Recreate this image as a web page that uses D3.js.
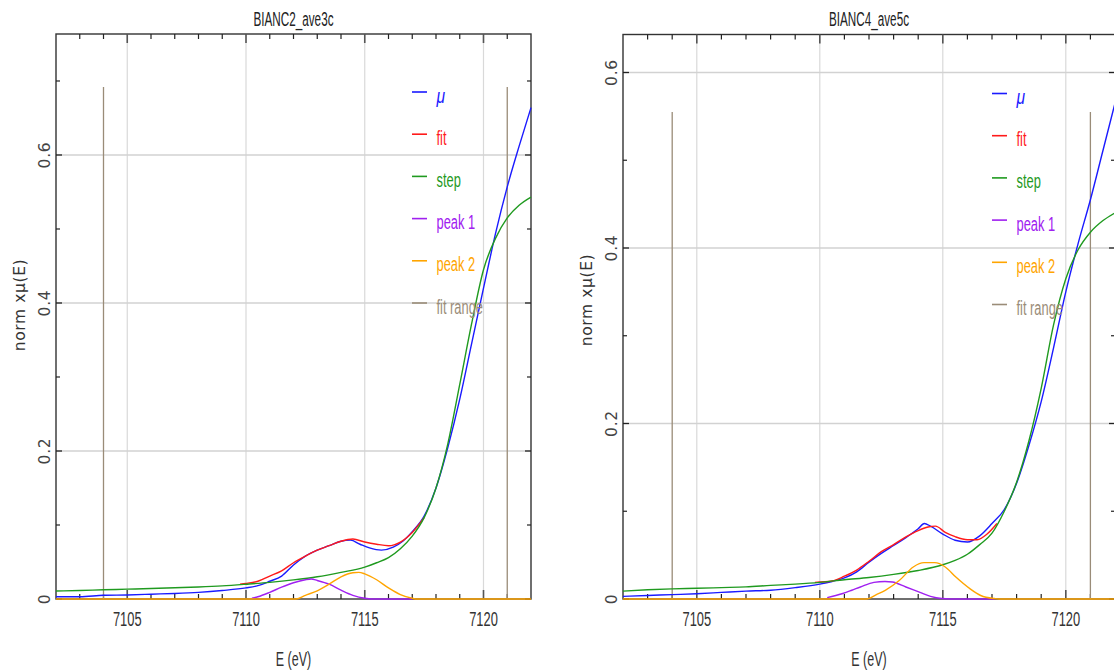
<!DOCTYPE html>
<html>
<head>
<meta charset="utf-8">
<script src="https://cdn.jsdelivr.net/npm/d3@7/dist/d3.min.js"></script>
<style>
  html, body { margin: 0; padding: 0; background: #fff; }
  svg { display: block; }
</style>
</head>
<body>
<svg id="chart" width="1114" height="672"></svg>
<script>
// ---- shared axis settings ----
const energyDomain = [7102, 7122];
const xMajorTicks = [7105, 7110, 7115, 7120];
const xMinorTicks = d3.range(7102, 7123, 1);
const yMajorTicks = [0, 0.2, 0.4, 0.6];
const yMinorTicks = [0.1, 0.3, 0.5, 0.7];
const legendLabels = ["μ", "fit", "step", "peak 1", "peak 2", "fit range"];
const xAxisLabel = "E (eV)";
const yAxisLabel = "norm xμ(E)";

// ---- BIANC2_ave3c ----
const b2Title = "BIANC2_ave3c";
const b2Mu = [[7102,0.003],[7103,0.003],[7104,0.005],[7105,0.0055],[7106,0.0065],[7107,0.0075],[7108,0.009],[7109,0.0115],[7110,0.015],[7110.5,0.018],[7111,0.024],[7111.5,0.031],[7112,0.046],[7112.5,0.058],[7113,0.066],[7113.5,0.072],[7114,0.078],[7114.4,0.0795],[7114.8,0.074],[7115.2,0.069],[7115.7,0.066],[7116.2,0.070],[7116.6,0.078],[7117,0.091],[7117.5,0.112],[7118,0.150],[7118.5,0.205],[7119,0.27],[7119.5,0.345],[7120,0.42],[7120.5,0.493],[7121,0.557],[7121.5,0.612],[7122,0.664]];
const b2Fit = [[7109.75,0.020],[7110,0.021],[7110.5,0.024],[7111,0.031],[7111.5,0.038],[7112,0.049],[7112.5,0.058],[7113,0.066],[7113.5,0.072],[7114,0.078],[7114.5,0.081],[7115,0.077],[7115.5,0.074],[7116,0.072],[7116.5,0.077],[7117,0.090],[7117.5,0.110]];
const b2Step = [[7102,0.0108],[7103,0.0115],[7104,0.0125],[7105,0.0133],[7106,0.0142],[7107,0.0152],[7108,0.0163],[7109,0.0178],[7110,0.020],[7111,0.0225],[7112,0.0258],[7113,0.030],[7114,0.036],[7115,0.043],[7115.5,0.049],[7116,0.056],[7116.5,0.068],[7117,0.085],[7117.5,0.11],[7118,0.15],[7118.5,0.21],[7119,0.29],[7119.5,0.372],[7120,0.445],[7120.5,0.487],[7121,0.515],[7121.5,0.532],[7122,0.543]];
const b2Peak1 = [[7110.25,0.001],[7110.5,0.003],[7111,0.009],[7111.5,0.016],[7112,0.022],[7112.5,0.026],[7112.75,0.027],[7113,0.025],[7113.5,0.020],[7114,0.012],[7114.5,0.005],[7115,0.001],[7115.3,0],[7117,0]];
const b2Peak2 = [[7102,0],[7112.1,0],[7112.5,0.005],[7113,0.011],[7113.5,0.020],[7114,0.030],[7114.5,0.0355],[7114.75,0.036],[7115,0.034],[7115.5,0.026],[7116,0.015],[7116.5,0.006],[7117,0.001],[7117.2,0],[7122,0]];
const b2FitRange = [7104, 7121];
const b2FitRangeTop = 0.692;

// ---- BIANC4_ave5c ----
const b4Title = "BIANC4_ave5c";
const b4Mu = [[7102,0.003],[7103,0.004],[7104,0.005],[7105,0.006],[7106,0.0075],[7107,0.009],[7108,0.010],[7109,0.013],[7110,0.017],[7110.5,0.020],[7111,0.024],[7111.5,0.031],[7112,0.042],[7112.5,0.052],[7113,0.061],[7113.5,0.070],[7114,0.080],[7114.25,0.086],[7114.5,0.083],[7115,0.074],[7115.5,0.067],[7116,0.065],[7116.5,0.072],[7117,0.086],[7117.5,0.102],[7118,0.132],[7118.5,0.175],[7119,0.225],[7119.5,0.286],[7120,0.350],[7120.5,0.405],[7121,0.455],[7121.5,0.510],[7122,0.565]];
const b4Fit = [[7109.8,0.019],[7110.5,0.0205],[7111,0.026],[7111.5,0.033],[7112,0.043],[7112.5,0.054],[7113,0.062],[7113.5,0.0707],[7114,0.078],[7114.4,0.082],[7114.7,0.083],[7115.1,0.076],[7115.5,0.071],[7116,0.0675],[7116.4,0.0676],[7116.8,0.074],[7117.2,0.086]];
const b4Step = [[7102,0.009],[7103,0.0105],[7104,0.0115],[7105,0.0122],[7106,0.013],[7107,0.0138],[7108,0.0155],[7109,0.017],[7110,0.019],[7111,0.022],[7112,0.0245],[7113,0.028],[7114,0.0325],[7115,0.039],[7115.5,0.044],[7116,0.051],[7116.5,0.062],[7117,0.075],[7117.5,0.100],[7118,0.133],[7118.5,0.18],[7119,0.24],[7119.5,0.312],[7120,0.365],[7120.5,0.398],[7121,0.418],[7121.5,0.431],[7122,0.440]];
const b4Peak1 = [[7110.3,0.0015],[7110.9,0.006],[7111.3,0.010],[7111.65,0.0137],[7112.2,0.019],[7112.65,0.020],[7112.95,0.0194],[7113.5,0.0137],[7114.1,0.0072],[7114.5,0.003],[7114.95,0.0005],[7115.3,0],[7117.1,0]];
const b4Peak2 = [[7102,0],[7111.9,0],[7112.3,0.005],[7112.66,0.0099],[7113.24,0.0213],[7113.8,0.0365],[7114.24,0.0414],[7114.67,0.0414],[7115.1,0.0365],[7115.53,0.025],[7116.1,0.0118],[7116.54,0.004],[7117.1,0.0005],[7117.3,0],[7122,0]];
const b4FitRange = [7104, 7121];
const b4FitRangeTop = 0.555;

// ---- styling ----
const colors = {
  mu: "#1a1aff", fit: "#ff1a1a", step: "#1f9a1f",
  peak1: "#a020f0", peak2: "#ffa500", fitRange: "#9a8c78"
};
const legendColors = [colors.mu, colors.fit, colors.step, colors.peak1, colors.peak2, colors.fitRange];
const narrowFont = "'Liberation Sans', Arial, sans-serif";
const wideFont = "'DejaVu Sans', sans-serif";

const svg = d3.select("#chart");

// text squeezed horizontally to mimic a tall, narrow plotting font
function narrowText(g, x, y, txt, opts) {
  const o = Object.assign({ size: 18, sx: 0.68, anchor: "middle", color: "#333", italic: false }, opts || {});
  return g.append("text")
    .attr("transform", `translate(${x},${y}) scale(${o.sx},1)`)
    .attr("text-anchor", o.anchor)
    .attr("font-family", narrowFont)
    .attr("font-size", o.size)
    .attr("font-style", o.italic ? "italic" : "normal")
    .attr("fill", o.color)
    .text(txt);
}

function drawPanel(p) {
  const g = svg.append("g");
  const x = d3.scaleLinear().domain(energyDomain).range([p.left, p.right]);
  const y = d3.scaleLinear().domain([0, p.yMax]).range([p.bottom, p.top]);
  const [x0, x1] = x.range();
  const [y0, y1] = y.range();

  // grid
  g.selectAll(".vgrid").data(xMajorTicks).join("line")
    .attr("x1", d => x(d)).attr("x2", d => x(d)).attr("y1", y0).attr("y2", y1)
    .attr("stroke", "#d9d9d9").attr("stroke-width", 1.2);
  g.selectAll(".hgrid").data(yMajorTicks.filter(d => d > 0 && d < p.yMax)).join("line")
    .attr("x1", x0).attr("x2", x1).attr("y1", d => y(d)).attr("y2", d => y(d))
    .attr("stroke", "#d2d2d2").attr("stroke-width", 1.3);

  // frame
  g.append("rect").attr("x", x0).attr("y", y1).attr("width", x1 - x0).attr("height", y0 - y1)
    .attr("fill", "none").attr("stroke", "#333").attr("stroke-width", 1.4);

  // x ticks, bottom and top, pointing inward
  const minorX = xMinorTicks.filter(d => !xMajorTicks.includes(d) && d > energyDomain[0] && d < energyDomain[1]);
  [[y0, -1], [y1, 1]].forEach(([yy, dir]) => {
    g.append("g").selectAll("line").data(minorX).join("line")
      .attr("x1", d => x(d)).attr("x2", d => x(d)).attr("y1", yy).attr("y2", yy + dir * 5)
      .attr("stroke", "#222").attr("stroke-width", 1.2);
    g.append("g").selectAll("line").data(xMajorTicks).join("line")
      .attr("x1", d => x(d)).attr("x2", d => x(d)).attr("y1", yy).attr("y2", yy + dir * 9)
      .attr("stroke", "#555").attr("stroke-width", 1.6);
  });
  // y ticks, left and right, pointing inward
  [[x0, 1], [x1, -1]].forEach(([xx, dir]) => {
    g.append("g").selectAll("line").data(yMinorTicks.filter(d => d < p.yMax)).join("line")
      .attr("x1", xx).attr("x2", xx + dir * 4).attr("y1", d => y(d)).attr("y2", d => y(d))
      .attr("stroke", "#222").attr("stroke-width", 1.2);
    g.append("g").selectAll("line").data(yMajorTicks.filter(d => d < p.yMax)).join("line")
      .attr("x1", xx).attr("x2", xx + dir * 6).attr("y1", d => y(d)).attr("y2", d => y(d))
      .attr("stroke", "#222").attr("stroke-width", 1.3);
  });

  // tick labels
  xMajorTicks.forEach(t => narrowText(g, x(t), 625.5, String(t), { size: 19.5, sx: 0.66, color: "#333" }));
  yMajorTicks.filter(d => d < p.yMax).forEach(t => {
    g.append("text")
      .attr("transform", `translate(${x0 - 6},${y(t)}) rotate(-90)`)
      .attr("text-anchor", "middle")
      .attr("font-family", wideFont).attr("font-size", 15.5).attr("fill", "#444")
      .attr("letter-spacing", 0.8)
      .text(t === 0 ? "0" : d3.format(".1f")(t));
  });

  // axis titles and panel title
  narrowText(g, (x0 + x1) / 2, 666, xAxisLabel, { size: 19.5, sx: 0.64 });
  g.append("text")
    .attr("transform", `translate(${x0 - 31},${p.yLabelCenter}) rotate(-90)`)
    .attr("text-anchor", "middle")
    .attr("font-family", wideFont).attr("font-size", 15.5).attr("fill", "#333")
    .attr("letter-spacing", 0.6)
    .text(yAxisLabel);
  narrowText(g, (x0 + x1) / 2, 26, p.title, { size: 19.5, sx: 0.6, color: "#222" });

  // fit range markers
  g.append("g").selectAll("line").data(p.fitRange).join("line")
    .attr("x1", d => x(d)).attr("x2", d => x(d)).attr("y1", y(0)).attr("y2", y(p.fitRangeTop))
    .attr("stroke", colors.fitRange).attr("stroke-width", 1.3);

  // curves
  const line = d3.line().x(d => x(d[0])).y(d => y(d[1])).curve(d3.curveMonotoneX);
  const series = [
    [p.mu, colors.mu], [p.fit, colors.fit], [p.step, colors.step],
    [p.peak1, colors.peak1], [p.peak2, colors.peak2]
  ];
  series.forEach(([data, c]) => {
    g.append("path").datum(data).attr("d", line)
      .attr("fill", "none").attr("stroke", c).attr("stroke-width", 1.4)
      .attr("stroke-linejoin", "round");
  });

  // legend
  legendLabels.forEach((lab, i) => {
    const ly = p.legendY + i * 42.2;
    g.append("line").attr("x1", p.legendX).attr("x2", p.legendX + 15)
      .attr("y1", ly).attr("y2", ly).attr("stroke", legendColors[i]).attr("stroke-width", 1.6);
    narrowText(g, p.legendX + 24.5, ly + 10.5, lab,
      { size: 19.5, sx: i === 0 ? 0.8 : 0.66, anchor: "start", color: legendColors[i], italic: i === 0 });
  });
}

drawPanel({
  title: b2Title, left: 56, right: 531, top: 34, bottom: 599, yMax: 0.7635,
  mu: b2Mu, fit: b2Fit, step: b2Step, peak1: b2Peak1, peak2: b2Peak2,
  fitRange: b2FitRange, fitRangeTop: b2FitRangeTop,
  legendX: 412, legendY: 92, yLabelCenter: 305
});
drawPanel({
  title: b4Title, left: 623, right: 1115, top: 34.5, bottom: 599, yMax: 0.6433,
  mu: b4Mu, fit: b4Fit, step: b4Step, peak1: b4Peak1, peak2: b4Peak2,
  fitRange: b4FitRange, fitRangeTop: b4FitRangeTop,
  legendX: 992, legendY: 93.5, yLabelCenter: 300
});
</script>
</body>
</html>
